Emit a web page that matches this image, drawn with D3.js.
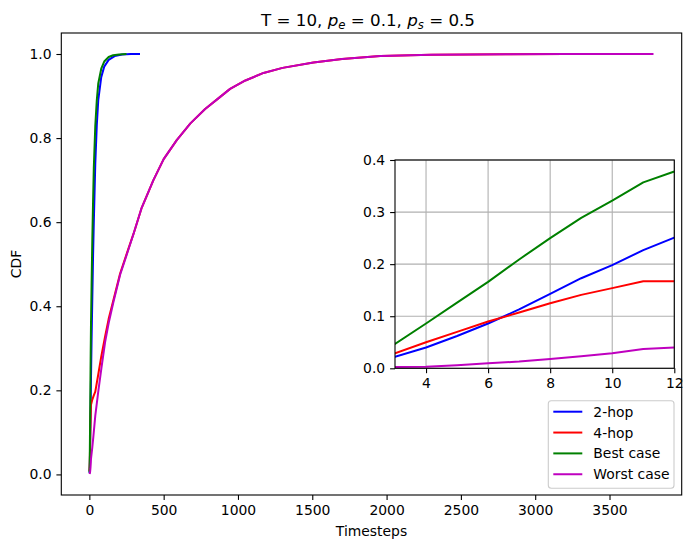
<!DOCTYPE html>
<html>
<head>
  <meta charset="utf-8">
  <title>CDF of timesteps</title>
  <script src="https://d3js.org/d3.v7.min.js"></script>
  <style>
    body { margin: 0; background: #fff; }
    text { font-family: "DejaVu Sans", sans-serif; fill: #000; }
  </style>
</head>
<body>
<svg id="chart" width="693" height="548"></svg>
<script>
// series data (timestep, cdf)
var hop2T   = [1, 2, 3, 4, 5, 6, 7, 8, 9, 10, 11, 12, 15, 20, 25, 30, 40, 50, 60, 80, 100, 130, 170, 220, 280, 341];
var hop2V   = [0.003, 0.01, 0.022, 0.04, 0.062, 0.086, 0.113, 0.143, 0.173, 0.198, 0.227, 0.251, 0.32, 0.42, 0.52, 0.6, 0.74, 0.83, 0.89, 0.945, 0.97, 0.986, 0.995, 0.999, 1.0, 1.0];

var hop4T   = [1, 2, 3, 4, 5, 6, 7, 8, 9, 10, 11, 12, 20, 30, 40, 61, 80, 106, 130, 162, 207, 263, 297, 350, 431, 500, 588, 680, 779, 870, 947, 1050, 1172, 1300, 1508, 1700, 1958, 2300, 2800, 3200, 3700];
var hop4V   = [0.008, 0.018, 0.029, 0.05, 0.07, 0.09, 0.107, 0.125, 0.141, 0.154, 0.167, 0.167, 0.178, 0.188, 0.197, 0.24, 0.28, 0.328, 0.37, 0.415, 0.478, 0.537, 0.572, 0.632, 0.70, 0.75, 0.795, 0.835, 0.869, 0.895, 0.917, 0.937, 0.955, 0.967, 0.980, 0.988, 0.995, 0.998, 0.9995, 1.0, 1.0];

var bestT   = [1, 2, 3, 4, 5, 6, 7, 8, 9, 10, 11, 12, 15, 20, 25, 30, 40, 50, 60, 80, 100, 130, 160, 200, 250];
var bestV   = [0.005, 0.02, 0.047, 0.086, 0.126, 0.166, 0.209, 0.25, 0.289, 0.322, 0.357, 0.378, 0.45, 0.56, 0.65, 0.73, 0.83, 0.89, 0.93, 0.965, 0.982, 0.993, 0.997, 0.999, 1.0];

var worstT  = [1, 2, 3, 4, 5, 6, 7, 8, 9, 10, 11, 12, 20, 27, 40, 61, 80, 106, 130, 162, 207, 263, 297, 350, 431, 500, 588, 680, 779, 870, 947, 1050, 1172, 1300, 1508, 1700, 1958, 2300, 2800, 3200, 3796];
var worstV  = [0.001, 0.002, 0.0026, 0.003, 0.006, 0.0096, 0.013, 0.018, 0.023, 0.029, 0.037, 0.040, 0.065, 0.09, 0.14, 0.20, 0.25, 0.315, 0.36, 0.41, 0.475, 0.535, 0.572, 0.632, 0.70, 0.75, 0.795, 0.835, 0.869, 0.895, 0.917, 0.937, 0.955, 0.967, 0.980, 0.988, 0.995, 0.998, 0.9995, 1.0, 1.0];

var seriesNames = ["2-hop", "4-hop", "Best case", "Worst case"];
var seriesColors = ["#0000ff", "#ff0000", "#008000", "#bf00bf"];

var xTicks = [0, 500, 1000, 1500, 2000, 2500, 3000, 3500];
var yTicks = [0.0, 0.2, 0.4, 0.6, 0.8, 1.0];
var insetXTicks = [4, 6, 8, 10, 12];
var insetYTicks = [0.0, 0.1, 0.2, 0.3, 0.4];

function zip(ts, vs) { return ts.map(function(t, i) { return { t: t, v: vs[i] }; }); }

var series = [
  zip(hop2T, hop2V),
  zip(hop4T, hop4V),
  zip(bestT, bestV),
  zip(worstT, worstV)
];

var svg = d3.select("#chart");
var mLeft = 61.3, mRight = 681.7, mTop = 33, mBottom = 495;

// matplotlib-like 5% margins
var allT = [].concat(hop2T, hop4T, bestT, worstT);
var allV = [].concat(hop2V, hop4V, bestV, worstV);
var tMin = d3.min(allT), tMax = d3.max(allT), vMin = d3.min(allV), vMax = d3.max(allV);
var tPad = (tMax - tMin) * 0.05, vPad = (vMax - vMin) * 0.05;

var x = d3.scaleLinear().domain([tMin - tPad, tMax + tPad]).range([mLeft, mRight]);
var y = d3.scaleLinear().domain([vMin - vPad, vMax + vPad]).range([mBottom, mTop]);

svg.append("clipPath").attr("id", "mainClip")
  .append("rect").attr("x", mLeft).attr("y", mTop).attr("width", mRight - mLeft).attr("height", mBottom - mTop);

var line = d3.line().x(function(d) { return x(d.t); }).y(function(d) { return y(d.v); });

svg.append("g").attr("clip-path", "url(#mainClip)")
  .selectAll("path").data(series).enter().append("path")
  .attr("d", line)
  .attr("fill", "none")
  .attr("stroke", function(d, i) { return seriesColors[i]; })
  .attr("stroke-width", 2)
  .attr("stroke-linejoin", "round");

// axes
function styleAxis(a) {
  a.select(".domain").remove();
  a.selectAll("text").style("font-family", "DejaVu Sans").style("font-size", "13.9px").attr("fill", "#000");
  a.selectAll("line").attr("stroke", "#000").attr("stroke-width", 1.1);
}
var xAxis = svg.append("g").attr("transform", "translate(0," + mBottom + ")")
  .call(d3.axisBottom(x).tickValues(xTicks).tickSize(4.9).tickPadding(4.9).tickFormat(d3.format("d")));
var yAxis = svg.append("g").attr("transform", "translate(" + mLeft + ",0)")
  .call(d3.axisLeft(y).tickValues(yTicks).tickSize(4.9).tickPadding(4.9).tickFormat(d3.format(".1f")));
styleAxis(xAxis);
styleAxis(yAxis);

svg.append("rect").attr("x", mLeft).attr("y", mTop).attr("width", mRight - mLeft).attr("height", mBottom - mTop)
  .attr("fill", "none").attr("stroke", "#000").attr("stroke-width", 1.1);

// title and labels
var title = svg.append("text").attr("x", 368).attr("y", 26)
  .attr("text-anchor", "middle").style("font-size", "16.7px");
title.append("tspan").text("T = 10, ");
title.append("tspan").style("font-style", "italic").text("p");
title.append("tspan").attr("dy", 3).style("font-size", "11.7px").style("font-style", "italic").text("e");
title.append("tspan").attr("dy", -3).text(" = 0.1, ");
title.append("tspan").style("font-style", "italic").text("p");
title.append("tspan").attr("dy", 3).style("font-size", "11.7px").style("font-style", "italic").text("s");
title.append("tspan").attr("dy", -3).text(" = 0.5");

svg.append("text").attr("x", (mLeft + mRight) / 2).attr("y", 536)
  .attr("text-anchor", "middle").style("font-size", "13.9px").text("Timesteps");
svg.append("text").attr("transform", "translate(21," + ((mTop + mBottom) / 2) + ") rotate(-90)")
  .attr("text-anchor", "middle").style("font-size", "13.9px").text("CDF");

// inset
var iL = 395, iR = 674.3, iT = 160, iB = 368.3;
var ix = d3.scaleLinear().domain([3, 12]).range([iL, iR]);
var iy = d3.scaleLinear().domain([0, 0.4]).range([iB, iT]);

var inset = svg.append("g");
inset.append("rect").attr("x", iL).attr("y", iT).attr("width", iR - iL).attr("height", iB - iT).attr("fill", "#fff");
inset.append("clipPath").attr("id", "insetClip")
  .append("rect").attr("x", iL).attr("y", iT).attr("width", iR - iL).attr("height", iB - iT);

inset.append("g").selectAll("line").data(insetXTicks).enter().append("line")
  .attr("x1", ix).attr("x2", ix).attr("y1", iT).attr("y2", iB)
  .attr("stroke", "#b0b0b0").attr("stroke-width", 1.1);
inset.append("g").selectAll("line").data(insetYTicks).enter().append("line")
  .attr("x1", iL).attr("x2", iR).attr("y1", iy).attr("y2", iy)
  .attr("stroke", "#b0b0b0").attr("stroke-width", 1.1);

var iline = d3.line().x(function(d) { return ix(d.t); }).y(function(d) { return iy(d.v); });
inset.append("g").attr("clip-path", "url(#insetClip)")
  .selectAll("path").data(series).enter().append("path")
  .attr("d", iline)
  .attr("fill", "none")
  .attr("stroke", function(d, i) { return seriesColors[i]; })
  .attr("stroke-width", 2)
  .attr("stroke-linejoin", "round");

var ixAxis = inset.append("g").attr("transform", "translate(0," + iB + ")")
  .call(d3.axisBottom(ix).tickValues(insetXTicks).tickSize(4.9).tickPadding(4.9).tickFormat(d3.format("d")));
var iyAxis = inset.append("g").attr("transform", "translate(" + iL + ",0)")
  .call(d3.axisLeft(iy).tickValues(insetYTicks).tickSize(4.9).tickPadding(4.9).tickFormat(d3.format(".1f")));
styleAxis(ixAxis);
styleAxis(iyAxis);
inset.append("rect").attr("x", iL).attr("y", iT).attr("width", iR - iL).attr("height", iB - iT)
  .attr("fill", "none").attr("stroke", "#000").attr("stroke-width", 1.1);

// legend
var lg = svg.append("g");
lg.append("rect").attr("x", 548.3).attr("y", 400.7).attr("width", 125.7).attr("height", 87.6)
  .attr("rx", 3).attr("fill", "#fff").attr("fill-opacity", 0.8).attr("stroke", "#cccccc").attr("stroke-width", 1.1);
var rows = lg.selectAll("g.row").data(seriesNames).enter().append("g").attr("class", "row")
  .attr("transform", function(d, i) { return "translate(553.3," + (411.7 + i * 20.85) + ")"; });
rows.append("line").attr("x1", 0).attr("x2", 29).attr("y1", 0).attr("y2", 0)
  .attr("stroke", function(d, i) { return seriesColors[i]; }).attr("stroke-width", 2);
rows.append("text").attr("x", 40).attr("y", 5).style("font-size", "13.9px").text(function(d) { return d; });
</script>
</body>
</html>
